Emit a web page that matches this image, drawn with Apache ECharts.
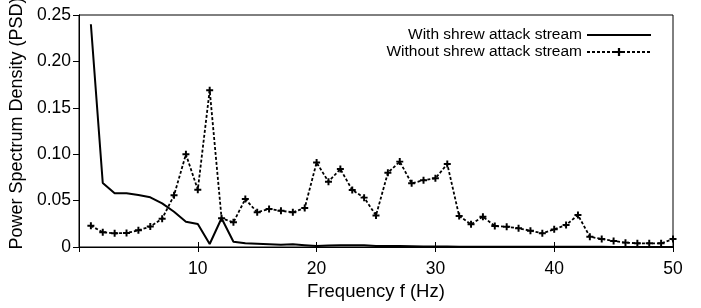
<!DOCTYPE html>
<html>
<head>
<meta charset="utf-8">
<script src="https://cdn.jsdelivr.net/npm/echarts@6/dist/echarts.min.js"></script>
<style>
  html, body { margin: 0; padding: 0; background: #fff; }
  #chart { width: 701px; height: 308px; }
</style>
</head>
<body>
<div id="chart"></div>
<script>
// frequency bins (Hz)
const freqs = [1,2,3,4,5,6,7,8,9,10,11,12,13,14,15,16,17,18,19,20,21,22,23,24,25,
               26,27,28,29,30,31,32,33,34,35,36,37,38,39,40,41,42,43,44,45,46,47,48,49,50];

// PSD with shrew attack stream (solid)
const withShrew = [0.240,0.069,0.058,0.0578,0.056,0.0535,0.047,0.038,0.0273,0.0248,
                   0.0032,0.031,0.0057,0.004,0.0035,0.003,0.0025,0.003,0.002,0.001,
                   0.0015,0.002,0.002,0.0018,0.0012,0.001,0.001,0.0008,0.0006,0.0005,
                   0.0005,0.0004,0.0004,0.0004,0.0003,0.0003,0.0003,0.0003,0.0002,0.0002,
                   0.0002,0.0002,0.0002,0.0002,0.0001,0.0001,0.0001,0.0001,0.0001,0.0001];

// PSD without shrew attack stream (dashed + markers)
const withoutShrew = [0.023,0.0158,0.0148,0.015,0.018,0.022,0.0305,0.0557,0.0999,0.0617,
                      0.169,0.031,0.0266,0.0517,0.0374,0.041,0.039,0.0374,0.042,0.091,
                      0.0704,0.084,0.0614,0.0532,0.034,0.080,0.092,0.0686,0.072,0.074,
                      0.0894,0.0334,0.0245,0.0327,0.0226,0.0219,0.0201,0.0176,0.0148,0.019,
                      0.0237,0.0345,0.0111,0.0086,0.0065,0.0047,0.004,0.004,0.004,0.0086];

const xTicks = [0, 10, 20, 30, 40, 50];
const yTicks = [0, 0.05, 0.10, 0.15, 0.20, 0.25];

const font = 'Liberation Sans';
const plus = 'path://M-1,-0.28H-0.28V-1H0.28V-0.28H1V0.28H0.28V1H-0.28V0.28H-1Z';
// plain line for the legend (tiny corner marks keep the box 64x10)
const lineIcon = 'path://M0,0H0.01V0.01Z M0,4H64V6H0Z M63.99,9.99H64V10Z';

const chart = echarts.init(document.getElementById('chart'));

const tickIn = { show: true, inside: true, length: 5, lineStyle: { color: '#000', width: 1 } };

chart.setOption({
  animation: false,
  textStyle: { fontFamily: font },
  grid: { left: 79, right: 28, top: 15, bottom: 61, show: true, borderColor: '#000', borderWidth: 1,
          containLabel: false, outerBoundsMode: 'none' },
  legend: {
    orient: 'vertical',
    right: 49,
    top: 27,
    padding: 0,
    align: 'right',
    itemWidth: 64,
    itemHeight: 10,
    itemGap: 1,
    textStyle: { fontFamily: font, fontSize: 15.5, color: '#000' },
    data: [
      { name: 'With shrew attack stream', icon: lineIcon },
      { name: 'Without shrew attack stream' }
    ]
  },
  xAxis: [{
    type: 'value',
    min: xTicks[0], max: xTicks[xTicks.length - 1], interval: 10,
    name: 'Frequency f (Hz)',
    nameLocation: 'middle',
    nameGap: 35,
    nameTextStyle: { fontFamily: font, fontSize: 18.5, color: '#000' },
    axisLine: { show: true, lineStyle: { color: '#000' } },
    axisTick: tickIn,
    axisLabel: { fontFamily: font, fontSize: 17.5, color: '#000', margin: 13,
                 formatter: v => v === 0 ? '' : String(v) },
    splitLine: { show: false }
  }, {
    type: 'value', position: 'top',
    min: xTicks[0], max: xTicks[xTicks.length - 1], interval: 10,
    axisLine: { show: true, lineStyle: { color: '#000' } },
    axisTick: tickIn,
    axisLabel: { show: false },
    splitLine: { show: false }
  }],
  yAxis: [{
    type: 'value',
    min: yTicks[0], max: yTicks[yTicks.length - 1], interval: 0.05,
    name: 'Power Spectrum Density (PSD)',
    nameLocation: 'middle',
    nameGap: 44,
    nameTextStyle: { fontFamily: font, fontSize: 18, color: '#000', padding: [0, 0, 0, 15] },
    axisLine: { show: true, lineStyle: { color: '#000' } },
    axisTick: { show: true, inside: false, length: 6, lineStyle: { color: '#000', width: 1 } },
    axisLabel: { fontFamily: font, fontSize: 17.5, color: '#000', margin: 8,
                 formatter: v => v === 0 ? '0' : v.toFixed(2) },
    splitLine: { show: false }
  }, {
    type: 'value', position: 'right',
    min: yTicks[0], max: yTicks[yTicks.length - 1], interval: 0.05,
    axisLine: { show: true, lineStyle: { color: '#000' } },
    axisTick: tickIn,
    axisLabel: { show: false },
    splitLine: { show: false }
  }],
  series: [{
    name: 'With shrew attack stream',
    type: 'line',
    data: freqs.map((f, i) => [f, withShrew[i]]),
    showSymbol: false,
    symbol: 'none',
    lineStyle: { color: '#000', width: 2 },
    itemStyle: { color: '#000' }
  }, {
    name: 'Without shrew attack stream',
    type: 'line',
    data: freqs.map((f, i) => [f, withoutShrew[i]]),
    symbol: plus,
    symbolSize: 7,
    lineStyle: { color: '#000', width: 1.8, type: [3, 2] },
    itemStyle: { color: '#000' }
  }]
});
</script>
</body>
</html>
